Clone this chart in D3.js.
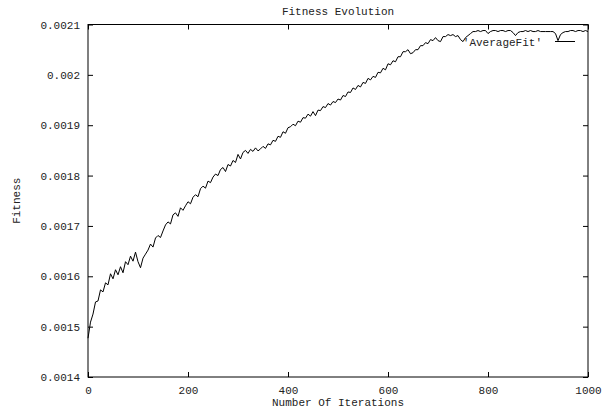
<!DOCTYPE html>
<html>
<head>
<meta charset="utf-8">
<script src="https://cdn.jsdelivr.net/npm/d3@7"></script>
<style>
  html, body { margin: 0; padding: 0; background: #fff; }
  svg text { font-family: "Liberation Mono", "Courier New", monospace; font-size: 11px; fill: #222; }
</style>
</head>
<body>
<svg id="chart" width="602" height="410"></svg>
<script>
const iterationStep = 5;
const averageFit = [
  0.001477, 0.001509, 0.001525, 0.001549, 0.001551, 0.001573, 0.001569, 0.001587, 0.001583, 0.001605,
  0.001595, 0.001613, 0.001603, 0.001619, 0.001607, 0.001629, 0.001623, 0.001640, 0.001630, 0.001648,
  0.001629, 0.001617, 0.001636, 0.001644, 0.001652, 0.001664, 0.001658, 0.001676, 0.001681, 0.001677,
  0.001690, 0.001702, 0.001708, 0.001704, 0.001722, 0.001726, 0.001719, 0.001736, 0.001731, 0.001740,
  0.001748, 0.001744, 0.001757, 0.001762, 0.001758, 0.001774, 0.001779, 0.001775, 0.001789, 0.001786,
  0.001797, 0.001803, 0.001800, 0.001812, 0.001816, 0.001808, 0.001822, 0.001819, 0.001830, 0.001826,
  0.001842, 0.001833, 0.001846, 0.001850, 0.001844, 0.001852, 0.001848, 0.001855, 0.001849, 0.001853,
  0.001858, 0.001854, 0.001863, 0.001861, 0.001870, 0.001868, 0.001878, 0.001876, 0.001887, 0.001884,
  0.001895, 0.001897, 0.001902, 0.001899, 0.001908, 0.001906, 0.001915, 0.001914, 0.001922, 0.001918,
  0.001927, 0.001919, 0.001930, 0.001929, 0.001937, 0.001935, 0.001943, 0.001940, 0.001947, 0.001945,
  0.001952, 0.001950, 0.001959, 0.001957, 0.001966, 0.001965, 0.001974, 0.001971, 0.001979, 0.001976,
  0.001985, 0.001983, 0.001993, 0.001990, 0.001997, 0.001995, 0.002005, 0.002004, 0.002013, 0.002010,
  0.002022, 0.002020, 0.002028, 0.002026, 0.002036, 0.002036, 0.002046, 0.002046, 0.002050, 0.002042,
  0.002044, 0.002050, 0.002050, 0.002058, 0.002058, 0.002064, 0.002062, 0.002070, 0.002068, 0.002074,
  0.002068, 0.002066, 0.002076, 0.002076, 0.002080, 0.002078, 0.002080, 0.002076, 0.002078, 0.002070,
  0.002066, 0.002074, 0.002078, 0.002082, 0.002086, 0.002086, 0.002088, 0.002086, 0.002088, 0.002088,
  0.002082, 0.002086, 0.002088, 0.002088, 0.002086, 0.002088, 0.002088, 0.002086, 0.002088, 0.002088,
  0.002084, 0.002078, 0.002084, 0.002086, 0.002086, 0.002088, 0.002086, 0.002088, 0.002086, 0.002086,
  0.002088, 0.002086, 0.002086, 0.002086, 0.002086, 0.002086, 0.002086, 0.002082, 0.002068, 0.002080,
  0.002084, 0.002086, 0.002086, 0.002088, 0.002088, 0.002086, 0.002088, 0.002088, 0.002086, 0.002088,
  0.002086
];
const xTicks = [0, 200, 400, 600, 800, 1000];
const yTicks = [0.0014, 0.0015, 0.0016, 0.0017, 0.0018, 0.0019, 0.002, 0.0021];
const yTickLabels = ["0.0014", "0.0015", "0.0016", "0.0017", "0.0018", "0.0019", "0.002", "0.0021"];
const titleText = "Fitness Evolution";
const xLabel = "Number Of Iterations";
const yLabel = "Fitness";
const seriesName = "'AverageFit'";

// ---- layout ----
const svg = d3.select("#chart");
const L = 88, R = 588, T = 24.5, B = 377;
const x = d3.scaleLinear().domain([0, 1000]).range([L, R]);
const y = d3.scaleLinear().domain([0.0014, 0.0021]).range([B, T]);

const tickLen = 5;
function styleAxis(g) {
  g.select(".domain").remove();
  g.selectAll(".tick line").attr("stroke", "#000").attr("stroke-width", 1);
  g.selectAll("text").attr("fill", "#222").style("font-family", "'Liberation Mono', monospace").style("font-size", "11px");
}

// bottom axis (inward ticks, labels below)
svg.append("g").attr("transform", `translate(0,${B})`)
  .call(d3.axisBottom(x).tickValues(xTicks).tickFormat(d3.format("d")).tickSizeInner(-tickLen).tickSizeOuter(0).tickPadding(9))
  .call(styleAxis);
// top mirror ticks
svg.append("g").attr("transform", `translate(0,${T})`)
  .call(d3.axisTop(x).tickValues(xTicks).tickFormat("").tickSizeInner(-tickLen).tickSizeOuter(0))
  .call(styleAxis);
// left axis
svg.append("g").attr("transform", `translate(${L},0)`)
  .call(d3.axisLeft(y).tickValues(yTicks).tickFormat((d, i) => yTickLabels[i]).tickSizeInner(-tickLen).tickSizeOuter(0).tickPadding(8))
  .call(styleAxis);
// right mirror ticks
svg.append("g").attr("transform", `translate(${R},0)`)
  .call(d3.axisRight(y).tickValues(yTicks).tickFormat("").tickSizeInner(-tickLen).tickSizeOuter(0))
  .call(styleAxis);

// frame
svg.append("rect").attr("x", L).attr("y", T).attr("width", R - L).attr("height", B - T)
  .attr("fill", "none").attr("stroke", "#000").attr("stroke-width", 1);

// line
const line = d3.line().x((d, i) => x(i * iterationStep)).y(d => y(d));
svg.append("path").datum(averageFit).attr("d", line)
  .attr("fill", "none").attr("stroke", "#000").attr("stroke-width", 1);

// legend
svg.append("text").attr("x", 542).attr("y", 46).attr("text-anchor", "end").text(seriesName);
svg.append("line").attr("x1", 555).attr("x2", 575).attr("y1", 41.5).attr("y2", 41.5)
  .attr("stroke", "#000").attr("stroke-width", 1);

// titles
svg.append("text").attr("x", (L + R) / 2).attr("y", 15).attr("text-anchor", "middle").text(titleText);
svg.append("text").attr("x", (L + R) / 2).attr("y", 406).attr("text-anchor", "middle").text(xLabel);
svg.append("text").attr("transform", `translate(20,${(T + B) / 2}) rotate(-90)`).attr("text-anchor", "middle").text(yLabel);
</script>
</body>
</html>
